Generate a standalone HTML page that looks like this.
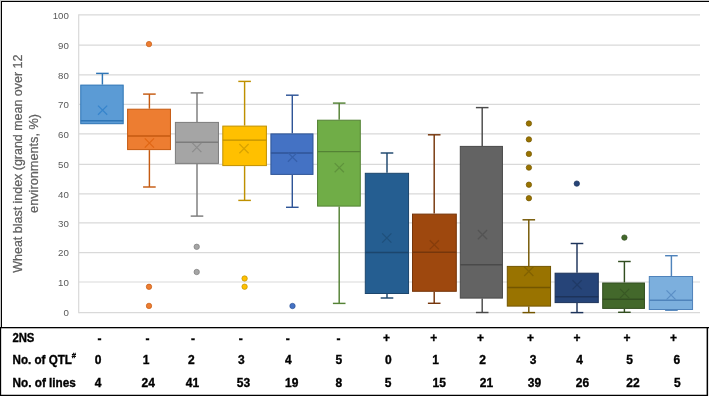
<!DOCTYPE html>
<html><head><meta charset="utf-8"><style>
html,body{margin:0;padding:0;background:#fff;width:709px;height:396px;overflow:hidden}
svg{display:block;will-change:transform}
.yl{font-family:"Liberation Sans",sans-serif;font-size:9.7px;fill:#595959}
.at{font-family:"Liberation Sans",sans-serif;font-size:13px;fill:#606060;stroke:#606060;stroke-width:0.25px}
.tb{font-family:"Liberation Sans",sans-serif;font-size:12px;font-weight:bold;fill:#000;stroke:#000;stroke-width:0.35px}
</style></head><body>
<svg width="709" height="396" viewBox="0 0 709 396">
<line x1="79" x2="700" y1="312.60" y2="312.60" stroke="#d9d9d9" stroke-width="1.2"/>
<line x1="79" x2="700" y1="282.00" y2="282.00" stroke="#d9d9d9" stroke-width="1.2"/>
<line x1="79" x2="700" y1="252.60" y2="252.60" stroke="#d9d9d9" stroke-width="1.2"/>
<line x1="79" x2="700" y1="222.80" y2="222.80" stroke="#d9d9d9" stroke-width="1.2"/>
<line x1="79" x2="700" y1="193.90" y2="193.90" stroke="#d9d9d9" stroke-width="1.2"/>
<line x1="79" x2="700" y1="164.30" y2="164.30" stroke="#d9d9d9" stroke-width="1.2"/>
<line x1="79" x2="700" y1="133.95" y2="133.95" stroke="#d9d9d9" stroke-width="1.2"/>
<line x1="79" x2="700" y1="104.40" y2="104.40" stroke="#d9d9d9" stroke-width="1.2"/>
<line x1="79" x2="700" y1="74.90" y2="74.90" stroke="#d9d9d9" stroke-width="1.2"/>
<line x1="79" x2="700" y1="45.10" y2="45.10" stroke="#d9d9d9" stroke-width="1.2"/>
<line x1="79" x2="700" y1="14.80" y2="14.80" stroke="#d9d9d9" stroke-width="1.2"/>
<line x1="78.7" x2="78.7" y1="14.20" y2="313.20" stroke="#d9d9d9" stroke-width="1.2"/>
<text x="68.9" y="316.35" text-anchor="end" class="yl">0</text>
<text x="68.9" y="285.75" text-anchor="end" class="yl">10</text>
<text x="68.9" y="256.35" text-anchor="end" class="yl">20</text>
<text x="68.9" y="226.55" text-anchor="end" class="yl">30</text>
<text x="68.9" y="197.65" text-anchor="end" class="yl">40</text>
<text x="68.9" y="168.05" text-anchor="end" class="yl">50</text>
<text x="68.9" y="137.70" text-anchor="end" class="yl">60</text>
<text x="68.9" y="108.15" text-anchor="end" class="yl">70</text>
<text x="68.9" y="78.65" text-anchor="end" class="yl">80</text>
<text x="68.9" y="48.85" text-anchor="end" class="yl">90</text>
<text x="68.9" y="18.55" text-anchor="end" class="yl">100</text>
<line x1="102.4" x2="102.4" y1="73.4" y2="84.6" stroke="#2e75b6" stroke-width="1.45"/>
<line x1="96.10000000000001" x2="108.7" y1="73.4" y2="73.4" stroke="#2e75b6" stroke-width="1.45"/>
<rect x="80.75" y="85.10" width="42.45" height="38.60" fill="#5B9BD5" stroke="#2e75b6" stroke-width="1"/>
<line x1="80.75" x2="123.20" y1="120.7" y2="120.7" stroke="#2e75b6" stroke-width="1.45"/>
<path d="M98.00 105.60L107.20 114.80M98.00 114.80L107.20 105.60" stroke="#3785cc" stroke-width="1.3" fill="none"/>
<line x1="149.4" x2="149.4" y1="94.1" y2="108.7" stroke="#c55a11" stroke-width="1.45"/>
<line x1="143.1" x2="155.70000000000002" y1="94.1" y2="94.1" stroke="#c55a11" stroke-width="1.45"/>
<line x1="149.4" x2="149.4" y1="150.1" y2="187.0" stroke="#c55a11" stroke-width="1.45"/>
<line x1="143.1" x2="155.70000000000002" y1="187.0" y2="187.0" stroke="#c55a11" stroke-width="1.45"/>
<rect x="127.60" y="109.20" width="42.85" height="40.40" fill="#ED7D31" stroke="#c55a11" stroke-width="1"/>
<line x1="127.60" x2="170.45" y1="136.0" y2="136.0" stroke="#c55a11" stroke-width="1.45"/>
<path d="M144.80 138.40L154.00 147.60M144.80 147.60L154.00 138.40" stroke="#e06614" stroke-width="1.3" fill="none"/>
<circle cx="149" cy="44.1" r="2.7" fill="#ED7D31" stroke="#c55a11" stroke-width="0.7"/>
<circle cx="149" cy="286.8" r="2.7" fill="#ED7D31" stroke="#c55a11" stroke-width="0.7"/>
<circle cx="149" cy="305.9" r="2.7" fill="#ED7D31" stroke="#c55a11" stroke-width="0.7"/>
<line x1="197.0" x2="197.0" y1="92.9" y2="121.89999999999999" stroke="#7c7c7c" stroke-width="1.45"/>
<line x1="190.7" x2="203.3" y1="92.9" y2="92.9" stroke="#7c7c7c" stroke-width="1.45"/>
<line x1="197.0" x2="197.0" y1="163.9" y2="216.1" stroke="#7c7c7c" stroke-width="1.45"/>
<line x1="190.7" x2="203.3" y1="216.1" y2="216.1" stroke="#7c7c7c" stroke-width="1.45"/>
<rect x="175.40" y="122.40" width="43.05" height="41.00" fill="#A5A5A5" stroke="#7c7c7c" stroke-width="1"/>
<line x1="175.40" x2="218.45" y1="142.3" y2="142.3" stroke="#7c7c7c" stroke-width="1.45"/>
<path d="M192.20 142.90L201.40 152.10M192.20 152.10L201.40 142.90" stroke="#8c8c8c" stroke-width="1.3" fill="none"/>
<circle cx="196.7" cy="246.8" r="2.7" fill="#A5A5A5" stroke="#7c7c7c" stroke-width="0.7"/>
<circle cx="196.7" cy="272.0" r="2.7" fill="#A5A5A5" stroke="#7c7c7c" stroke-width="0.7"/>
<line x1="244.6" x2="244.6" y1="81.4" y2="125.6" stroke="#bf9000" stroke-width="1.45"/>
<line x1="238.29999999999998" x2="250.9" y1="81.4" y2="81.4" stroke="#bf9000" stroke-width="1.45"/>
<line x1="244.6" x2="244.6" y1="166.1" y2="200.4" stroke="#bf9000" stroke-width="1.45"/>
<line x1="238.29999999999998" x2="250.9" y1="200.4" y2="200.4" stroke="#bf9000" stroke-width="1.45"/>
<rect x="222.80" y="126.10" width="43.60" height="39.50" fill="#FFC000" stroke="#bf9000" stroke-width="1"/>
<line x1="222.80" x2="266.40" y1="140.1" y2="140.1" stroke="#bf9000" stroke-width="1.45"/>
<path d="M239.40 144.00L248.60 153.20M239.40 153.20L248.60 144.00" stroke="#d9a300" stroke-width="1.3" fill="none"/>
<circle cx="244.6" cy="278.5" r="2.7" fill="#FFC000" stroke="#bf9000" stroke-width="0.7"/>
<circle cx="244.6" cy="286.7" r="2.7" fill="#FFC000" stroke="#bf9000" stroke-width="0.7"/>
<line x1="292.3" x2="292.3" y1="95.2" y2="133.4" stroke="#2f5597" stroke-width="1.45"/>
<line x1="286.0" x2="298.6" y1="95.2" y2="95.2" stroke="#2f5597" stroke-width="1.45"/>
<line x1="292.3" x2="292.3" y1="174.9" y2="207.3" stroke="#2f5597" stroke-width="1.45"/>
<line x1="286.0" x2="298.6" y1="207.3" y2="207.3" stroke="#2f5597" stroke-width="1.45"/>
<rect x="270.90" y="133.90" width="42.10" height="40.50" fill="#4472C4" stroke="#2f5597" stroke-width="1"/>
<line x1="270.90" x2="313.00" y1="153.0" y2="153.0" stroke="#2f5597" stroke-width="1.45"/>
<path d="M287.90 152.60L297.10 161.80M287.90 161.80L297.10 152.60" stroke="#3660ab" stroke-width="1.3" fill="none"/>
<circle cx="292.5" cy="306.0" r="2.7" fill="#4472C4" stroke="#2f5597" stroke-width="0.7"/>
<line x1="339.2" x2="339.2" y1="103.1" y2="119.7" stroke="#548235" stroke-width="1.45"/>
<line x1="332.9" x2="345.5" y1="103.1" y2="103.1" stroke="#548235" stroke-width="1.45"/>
<line x1="339.2" x2="339.2" y1="206.6" y2="303.4" stroke="#548235" stroke-width="1.45"/>
<line x1="332.9" x2="345.5" y1="303.4" y2="303.4" stroke="#548235" stroke-width="1.45"/>
<rect x="317.55" y="120.20" width="42.75" height="85.90" fill="#70AD47" stroke="#548235" stroke-width="1"/>
<line x1="317.55" x2="360.30" y1="151.6" y2="151.6" stroke="#548235" stroke-width="1.45"/>
<path d="M334.70 163.10L343.90 172.30M334.70 172.30L343.90 163.10" stroke="#5f933c" stroke-width="1.3" fill="none"/>
<line x1="387.0" x2="387.0" y1="153.0" y2="172.8" stroke="#1c466d" stroke-width="1.45"/>
<line x1="380.7" x2="393.3" y1="153.0" y2="153.0" stroke="#1c466d" stroke-width="1.45"/>
<line x1="387.0" x2="387.0" y1="294.0" y2="298.0" stroke="#1c466d" stroke-width="1.45"/>
<line x1="380.7" x2="393.3" y1="298.0" y2="298.0" stroke="#1c466d" stroke-width="1.45"/>
<rect x="365.30" y="173.30" width="43.25" height="120.20" fill="#255E91" stroke="#1c466d" stroke-width="1"/>
<line x1="365.30" x2="408.55" y1="252.5" y2="252.5" stroke="#1c466d" stroke-width="1.45"/>
<path d="M382.20 233.40L391.40 242.60M382.20 242.60L391.40 233.40" stroke="#1f507b" stroke-width="1.3" fill="none"/>
<line x1="434.2" x2="434.2" y1="134.8" y2="213.60000000000002" stroke="#76360b" stroke-width="1.45"/>
<line x1="427.9" x2="440.5" y1="134.8" y2="134.8" stroke="#76360b" stroke-width="1.45"/>
<line x1="434.2" x2="434.2" y1="291.8" y2="303.3" stroke="#76360b" stroke-width="1.45"/>
<line x1="427.9" x2="440.5" y1="303.3" y2="303.3" stroke="#76360b" stroke-width="1.45"/>
<rect x="412.50" y="214.10" width="43.80" height="77.20" fill="#9E480E" stroke="#76360b" stroke-width="1"/>
<line x1="412.50" x2="456.30" y1="252.3" y2="252.3" stroke="#76360b" stroke-width="1.45"/>
<path d="M429.70 240.20L438.90 249.40M429.70 249.40L438.90 240.20" stroke="#863d0c" stroke-width="1.3" fill="none"/>
<line x1="482.2" x2="482.2" y1="107.6" y2="145.9" stroke="#4a4a4a" stroke-width="1.45"/>
<line x1="475.9" x2="488.5" y1="107.6" y2="107.6" stroke="#4a4a4a" stroke-width="1.45"/>
<line x1="482.2" x2="482.2" y1="298.6" y2="312.5" stroke="#4a4a4a" stroke-width="1.45"/>
<line x1="475.9" x2="488.5" y1="312.5" y2="312.5" stroke="#4a4a4a" stroke-width="1.45"/>
<rect x="460.30" y="146.40" width="42.15" height="151.70" fill="#636363" stroke="#4a4a4a" stroke-width="1"/>
<line x1="460.30" x2="502.45" y1="264.8" y2="264.8" stroke="#4a4a4a" stroke-width="1.45"/>
<path d="M477.90 230.00L487.10 239.20M477.90 239.20L487.10 230.00" stroke="#545454" stroke-width="1.3" fill="none"/>
<line x1="528.8" x2="528.8" y1="219.8" y2="265.90000000000003" stroke="#735600" stroke-width="1.45"/>
<line x1="522.5" x2="535.0999999999999" y1="219.8" y2="219.8" stroke="#735600" stroke-width="1.45"/>
<line x1="528.8" x2="528.8" y1="306.6" y2="312.6" stroke="#735600" stroke-width="1.45"/>
<line x1="522.5" x2="535.0999999999999" y1="312.6" y2="312.6" stroke="#735600" stroke-width="1.45"/>
<rect x="507.30" y="266.40" width="43.25" height="39.70" fill="#997300" stroke="#735600" stroke-width="1"/>
<line x1="507.30" x2="550.55" y1="287.4" y2="287.4" stroke="#735600" stroke-width="1.45"/>
<path d="M524.20 266.80L533.40 276.00M524.20 276.00L533.40 266.80" stroke="#826200" stroke-width="1.3" fill="none"/>
<circle cx="528.9" cy="123.5" r="2.7" fill="#997300" stroke="#735600" stroke-width="0.7"/>
<circle cx="528.9" cy="139.4" r="2.7" fill="#997300" stroke="#735600" stroke-width="0.7"/>
<circle cx="528.9" cy="153.9" r="2.7" fill="#997300" stroke="#735600" stroke-width="0.7"/>
<circle cx="528.9" cy="167.6" r="2.7" fill="#997300" stroke="#735600" stroke-width="0.7"/>
<circle cx="528.9" cy="184.7" r="2.7" fill="#997300" stroke="#735600" stroke-width="0.7"/>
<circle cx="528.9" cy="198.2" r="2.7" fill="#997300" stroke="#735600" stroke-width="0.7"/>
<line x1="577.0" x2="577.0" y1="243.5" y2="272.7" stroke="#1d335a" stroke-width="1.45"/>
<line x1="570.7" x2="583.3" y1="243.5" y2="243.5" stroke="#1d335a" stroke-width="1.45"/>
<line x1="577.0" x2="577.0" y1="303.1" y2="312.6" stroke="#1d335a" stroke-width="1.45"/>
<line x1="570.7" x2="583.3" y1="312.6" y2="312.6" stroke="#1d335a" stroke-width="1.45"/>
<rect x="555.10" y="273.20" width="43.20" height="29.40" fill="#264478" stroke="#1d335a" stroke-width="1"/>
<line x1="555.10" x2="598.30" y1="296.8" y2="296.8" stroke="#1d335a" stroke-width="1.45"/>
<path d="M572.50 280.20L581.70 289.40M572.50 289.40L581.70 280.20" stroke="#203a66" stroke-width="1.3" fill="none"/>
<circle cx="576.8" cy="183.6" r="2.7" fill="#264478" stroke="#1d335a" stroke-width="0.7"/>
<line x1="624.4" x2="624.4" y1="261.5" y2="282.5" stroke="#324e20" stroke-width="1.45"/>
<line x1="618.1" x2="630.6999999999999" y1="261.5" y2="261.5" stroke="#324e20" stroke-width="1.45"/>
<line x1="624.4" x2="624.4" y1="308.90000000000003" y2="312.3" stroke="#324e20" stroke-width="1.45"/>
<line x1="618.1" x2="630.6999999999999" y1="312.3" y2="312.3" stroke="#324e20" stroke-width="1.45"/>
<rect x="602.70" y="283.00" width="41.75" height="25.40" fill="#43682B" stroke="#324e20" stroke-width="1"/>
<line x1="602.70" x2="644.45" y1="299.2" y2="299.2" stroke="#324e20" stroke-width="1.45"/>
<path d="M620.00 288.90L629.20 298.10M620.00 298.10L629.20 288.90" stroke="#395825" stroke-width="1.3" fill="none"/>
<circle cx="624.4" cy="237.6" r="2.7" fill="#43682B" stroke="#324e20" stroke-width="0.7"/>
<line x1="671.4" x2="671.4" y1="255.7" y2="276.0" stroke="#4f83bb" stroke-width="1.45"/>
<line x1="665.1" x2="677.6999999999999" y1="255.7" y2="255.7" stroke="#4f83bb" stroke-width="1.45"/>
<line x1="671.4" x2="671.4" y1="310.0" y2="310.2" stroke="#4f83bb" stroke-width="1.45"/>
<line x1="665.1" x2="677.6999999999999" y1="310.2" y2="310.2" stroke="#4f83bb" stroke-width="1.45"/>
<rect x="649.30" y="276.50" width="43.25" height="33.00" fill="#7CAFDD" stroke="#4f83bb" stroke-width="1"/>
<line x1="649.30" x2="692.55" y1="300.3" y2="300.3" stroke="#4f83bb" stroke-width="1.45"/>
<path d="M666.50 290.40L675.70 299.60M666.50 299.60L675.70 290.40" stroke="#5b8fc6" stroke-width="1.3" fill="none"/>
<text transform="translate(21.7 163.65) rotate(-90)" text-anchor="middle" class="at" textLength="218" lengthAdjust="spacingAndGlyphs">Wheat blast index (grand mean over 12</text>
<text transform="translate(38.2 163.4) rotate(-90)" text-anchor="middle" class="at" textLength="99" lengthAdjust="spacingAndGlyphs">environments, %)</text>
<text x="12.4" y="341.8" class="tb" textLength="22" lengthAdjust="spacingAndGlyphs">2NS</text>
<text x="12.6" y="363.8" class="tb" textLength="59.3" lengthAdjust="spacingAndGlyphs">No. of QTL</text>
<text x="71.7" y="357.7" class="tb" style="font-size:7.6px">#</text>
<text x="12.6" y="387" class="tb" textLength="63.2" lengthAdjust="spacingAndGlyphs">No. of lines</text>
<text x="99.6" y="342.8" text-anchor="middle" class="tb">-</text>
<text x="147.5" y="342.8" text-anchor="middle" class="tb">-</text>
<text x="193" y="342.8" text-anchor="middle" class="tb">-</text>
<text x="240.8" y="342.8" text-anchor="middle" class="tb">-</text>
<text x="287.7" y="342.8" text-anchor="middle" class="tb">-</text>
<text x="338.5" y="342.8" text-anchor="middle" class="tb">-</text>
<text x="386.5" y="341.8" text-anchor="middle" class="tb">+</text>
<text x="433.8" y="341.8" text-anchor="middle" class="tb">+</text>
<text x="480.5" y="341.8" text-anchor="middle" class="tb">+</text>
<text x="530.4" y="341.8" text-anchor="middle" class="tb">+</text>
<text x="577" y="341.8" text-anchor="middle" class="tb">+</text>
<text x="626.9" y="341.8" text-anchor="middle" class="tb">+</text>
<text x="673.6" y="341.8" text-anchor="middle" class="tb">+</text>
<text x="98.05" y="363.8" text-anchor="middle" class="tb">0</text>
<text x="146" y="363.8" text-anchor="middle" class="tb">1</text>
<text x="191.35" y="363.8" text-anchor="middle" class="tb">2</text>
<text x="241.4" y="363.8" text-anchor="middle" class="tb">3</text>
<text x="288.3" y="363.8" text-anchor="middle" class="tb">4</text>
<text x="338.75" y="363.8" text-anchor="middle" class="tb">5</text>
<text x="388.3" y="363.8" text-anchor="middle" class="tb">0</text>
<text x="435.7" y="363.8" text-anchor="middle" class="tb">1</text>
<text x="482.55" y="363.8" text-anchor="middle" class="tb">2</text>
<text x="533.05" y="363.8" text-anchor="middle" class="tb">3</text>
<text x="579.55" y="363.8" text-anchor="middle" class="tb">4</text>
<text x="629.65" y="363.8" text-anchor="middle" class="tb">5</text>
<text x="676.85" y="363.8" text-anchor="middle" class="tb">6</text>
<text x="98.05" y="387" text-anchor="middle" class="tb">4</text>
<text x="148.2" y="387" text-anchor="middle" class="tb">24</text>
<text x="192.5" y="387" text-anchor="middle" class="tb">41</text>
<text x="243.55" y="387" text-anchor="middle" class="tb">53</text>
<text x="291.75" y="387" text-anchor="middle" class="tb">19</text>
<text x="338.75" y="387" text-anchor="middle" class="tb">8</text>
<text x="388.05" y="387" text-anchor="middle" class="tb">5</text>
<text x="439.15" y="387" text-anchor="middle" class="tb">15</text>
<text x="486.55" y="387" text-anchor="middle" class="tb">21</text>
<text x="534.45" y="387" text-anchor="middle" class="tb">39</text>
<text x="582.55" y="387" text-anchor="middle" class="tb">26</text>
<text x="632.95" y="387" text-anchor="middle" class="tb">22</text>
<text x="677.4" y="387" text-anchor="middle" class="tb">5</text>
<rect x="0" y="0" width="709" height="1" fill="#c8c8c8"/>
<rect x="0" y="1" width="709" height="1" fill="#000"/>
<rect x="0" y="0" width="1" height="327" fill="#c8c8c8"/>
<rect x="1" y="1" width="1" height="326" fill="#000"/>
<rect x="0" y="327" width="709" height="1.3" fill="#000"/>
<rect x="0" y="327" width="1.15" height="69" fill="#000"/>
<rect x="706.6" y="327" width="1.5" height="69" fill="#000"/>
<rect x="0" y="394.75" width="708" height="1.25" fill="#000"/>
</svg>
</body></html>
